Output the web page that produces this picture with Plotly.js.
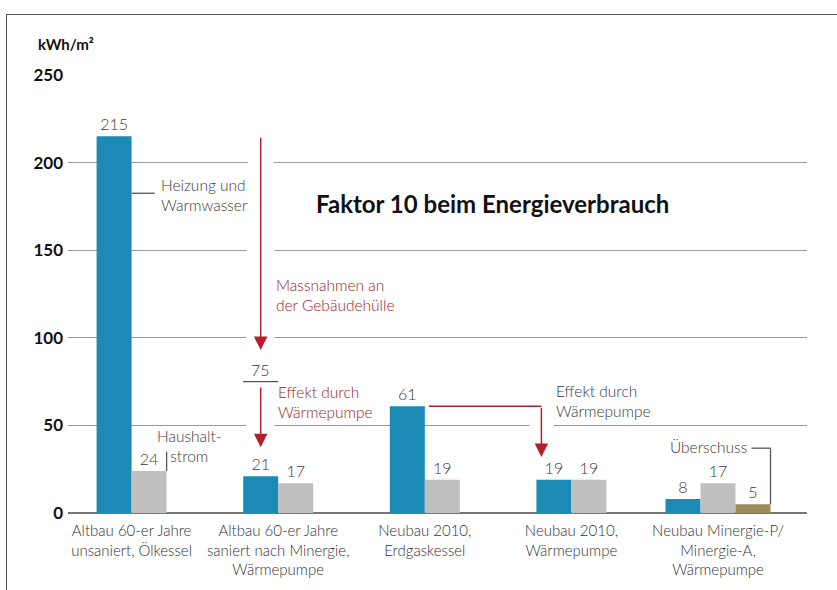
<!DOCTYPE html>
<html>
<head>
<meta charset="utf-8">
<script src="https://cdn.plot.ly/plotly-3.0.1.min.js"></script>
<style>
  html, body { margin: 0; padding: 0; background: #fff; }
  #wrap { position: relative; width: 837px; height: 590px; }
  #chart { width: 837px; height: 590px; }
  #frame { position: absolute; left: 6px; top: 14px; width: 831px; height: 576px;
           border-left: 1.5px solid #555; border-top: 1.5px solid #555; box-sizing: border-box; pointer-events: none; }
</style>
</head>
<body>
<div id="wrap"><div id="chart"></div><div id="frame"></div></div>
<script>
// ---- data ----
const categories = [
  "Altbau 60-er Jahre<br>unsaniert, Ölkessel",
  "Altbau 60-er Jahre<br>saniert nach Minergie,<br>Wärmepumpe",
  "Neubau 2010,<br>Erdgaskessel",
  "Neubau 2010,<br>Wärmepumpe",
  "Neubau Minergie-P/<br>Minergie-A,<br>Wärmepumpe"
];
const heizungWarmwasser = [215, 21, 61, 19, 8];
const haushaltstrom = [24, 17, 19, 19, 17];
const ueberschussCat = ["Neubau Minergie-P/<br>Minergie-A,<br>Wärmepumpe"];
const ueberschuss = [5];
const nachHuelle = 75;          // intermediate value after building envelope measures
const yTickVals = [0, 50, 100, 150, 200, 250];
const yTitle = "kWh/m²";
const chartTitle = "Faktor 10 beim Energieverbrauch";

// ---- styling / layout helpers ----
const BLUE = "#1b8bb5", GREY = "#bfbfbf", OLIVE = "#9d8b5c", RED = "#b3202a", TXT = "#3a3a3a";
const FONT = "Lato, 'Open Sans', sans-serif";
const pxPerUnit = 146.6;            // category spacing in px
const W = 35 / pxPerUnit;           // bar width in category units
const u = px => px / pxPerUnit;     // px distance -> category units

const labelFont = {family: FONT, size: 16, color: TXT, weight: 300};

const traces = [
  {type: "bar", x: categories, y: heizungWarmwasser, width: W,
   offset: [-W, -W, -W, -W, -1.5 * W], marker: {color: BLUE},
   text: heizungWarmwasser.map(String), textposition: "outside", textfont: labelFont, outsidetextfont: labelFont,
   cliponaxis: false, hoverinfo: "skip"},
  {type: "bar", x: categories, y: haushaltstrom, width: W,
   offset: [0, 0, 0, 0, -0.5 * W], marker: {color: GREY},
   text: haushaltstrom.map(String), textposition: "outside", textfont: labelFont, outsidetextfont: labelFont,
   cliponaxis: false, hoverinfo: "skip"},
  {type: "bar", x: ueberschussCat, y: ueberschuss, width: W,
   offset: [0.5 * W], marker: {color: OLIVE},
   text: ueberschuss.map(String), textposition: "outside", textfont: labelFont, outsidetextfont: labelFont,
   cliponaxis: false, hoverinfo: "skip"}
];

const arrow1X = 1 - W / 2;            // over blue bar of group 2
const arrow3X = 3 - W + u(5);         // over blue bar of group 4
const hStart = 2 + u(4);              // right of blue bar of group 3
const olRight = 4 + 1.5 * W;

const gapRect = (xc, halfPx, yv) => ({type: "rect", xref: "x", yref: "y", layer: "between",
  x0: xc - u(halfPx), x1: xc + u(halfPx), y0: yv - 1.5, y1: yv + 1.5,
  fillcolor: "#fff", line: {width: 0}});

const shapes = [
  gapRect(arrow1X, 14, 50), gapRect(arrow1X, 14, 100), gapRect(arrow1X, 14, 150), gapRect(arrow1X, 13, 200),
  gapRect(arrow3X, 12, 50),
  {type: "line", xref: "x", yref: "y", x0: 0, x1: u(23), y0: 182.5, y1: 182.5, line: {color: "#555", width: 1.3}},
  {type: "line", xref: "x", yref: "y", x0: W, x1: W, y0: haushaltstrom[0], y1: 35, line: {color: "#555", width: 1.3}},
  {type: "line", xref: "x", yref: "y", x0: 1 - W, x1: 1, y0: nachHuelle, y1: nachHuelle, line: {color: "#555", width: 1.3}},
  {type: "line", xref: "x", yref: "y", x0: olRight - u(19), x1: olRight, y0: 37, y1: 37, line: {color: "#555", width: 1.3}},
  {type: "line", xref: "x", yref: "y", x0: olRight, x1: olRight, y0: 37, y1: ueberschuss[0], line: {color: "#555", width: 1.3}},
  {type: "line", xref: "x", yref: "y", x0: hStart, x1: arrow3X, y0: heizungWarmwasser[2], y1: heizungWarmwasser[2], line: {color: RED, width: 1.5}}
];

const arrow = (x, yFrom, yTo) => ({x: x, y: yTo, ax: x, ay: yFrom, xref: "x", yref: "y", axref: "x", ayref: "y",
  text: "", showarrow: true, arrowhead: 2, arrowsize: 1.8, arrowwidth: 1.5, arrowcolor: RED, standoff: 0, startstandoff: 0});

const txtFont = {family: FONT, size: 15.5, color: TXT, weight: 300};
const redFont = {family: FONT, size: 15.5, color: "#9e1a24", weight: 300};

const annotations = [
  arrow(arrow1X, heizungWarmwasser[0], 93),
  arrow(arrow1X, 72.5, 37.5),
  arrow(arrow3X, heizungWarmwasser[2], 32),
  {x: arrow1X, y: nachHuelle, xref: "x", yref: "y", text: String(nachHuelle),
   showarrow: false, yanchor: "bottom", yshift: 1, font: labelFont},
  {x: u(27), y: 181.5, xref: "x", yref: "y", text: "Heizung und<br>Warmwasser", showarrow: false,
   xanchor: "left", yanchor: "middle", align: "left", font: txtFont},
  {x: u(58), y: 38.5, xref: "x", yref: "y", text: "Haushalt-<br>strom", showarrow: false,
   xanchor: "center", yanchor: "middle", align: "center", font: txtFont},
  {x: arrow1X + u(13), y: 124.4, xref: "x", yref: "y", text: "Massnahmen an<br>der Gebäudehülle", showarrow: false,
   xanchor: "left", yanchor: "middle", align: "left", font: redFont},
  {x: arrow1X + u(15), y: 63.4, xref: "x", yref: "y", text: "Effekt durch<br>Wärmepumpe", showarrow: false,
   xanchor: "left", yanchor: "middle", align: "left", font: redFont},
  {x: arrow3X + u(13), y: 64, xref: "x", yref: "y", text: "Effekt durch<br>Wärmepumpe", showarrow: false,
   xanchor: "left", yanchor: "middle", align: "left", font: txtFont},
  {x: olRight - u(22), y: 37.7, xref: "x", yref: "y", text: "Überschuss", showarrow: false,
   xanchor: "right", yanchor: "middle", font: txtFont},
  {x: 0.574, y: 0.706, xref: "paper", yref: "paper", text: chartTitle, showarrow: false,
   xanchor: "center", yanchor: "middle", font: {family: FONT, size: 24, color: "#111", weight: 700}},
  {x: -0.0433, y: 1.0708, xref: "paper", yref: "paper", text: yTitle, showarrow: false,
   xanchor: "left", yanchor: "middle", font: {family: FONT, size: 15, color: "#111", weight: 700}}
];

const r0 = -(131.6 - 68) / pxPerUnit;
const layout = {
  width: 837, height: 590,
  margin: {l: 68, r: 30, t: 75, b: 77},
  paper_bgcolor: "#fff", plot_bgcolor: "#fff",
  barmode: "overlay",
  showlegend: false,
  xaxis: {type: "category", range: [r0, r0 + 739 / pxPerUnit], showgrid: false, zeroline: false,
          showline: false, ticks: "", ticklabelstandoff: 7,
          tickfont: {family: FONT, size: 15, color: "#333", weight: 300}, fixedrange: true},
  yaxis: {range: [0, 250], tickvals: yTickVals, ticktext: yTickVals.map(String), showgrid: true,
          gridcolor: "#999", gridwidth: 1, zeroline: true, zerolinecolor: "#777", zerolinewidth: 1.5,
          showline: false, ticks: "", ticklabelstandoff: 4,
          tickfont: {family: FONT, size: 17, color: "#111", weight: 700}, fixedrange: true},
  shapes: shapes,
  annotations: annotations
};

Plotly.newPlot("chart", traces, layout, {displayModeBar: false, staticPlot: true});
</script>
</body>
</html>
